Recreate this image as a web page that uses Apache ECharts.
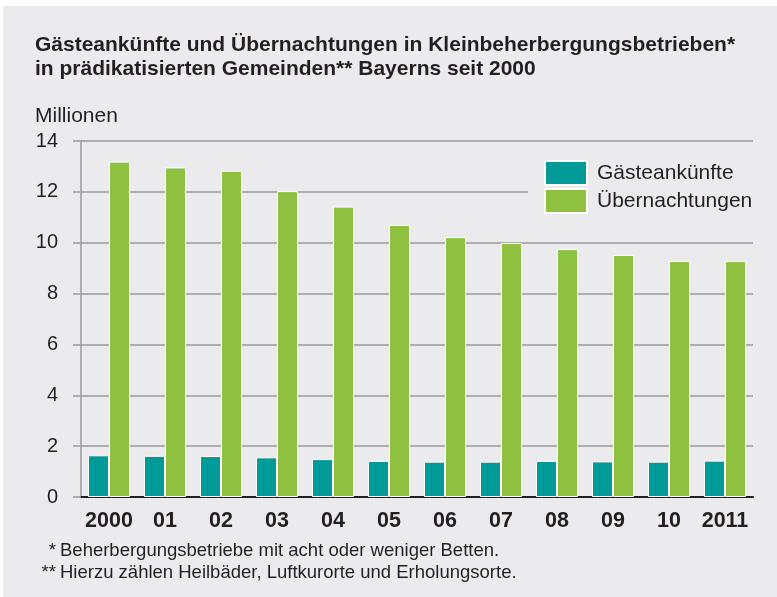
<!DOCTYPE html>
<html>
<head>
<meta charset="utf-8">
<script src="https://cdn.jsdelivr.net/npm/echarts@6/dist/echarts.min.js"></script>
<style>
  html, body { margin: 0; padding: 0; background: #fff; }
  #chart { width: 777px; height: 597px; }
</style>
</head>
<body>
<div id="chart"></div>
<script>
// Jahre (x axis)
const years = ['2000', '01', '02', '03', '04', '05', '06', '07', '08', '09', '10', '2011'];
// Gästeankünfte in Millionen
const arrivals = [1.64, 1.62, 1.61, 1.56, 1.49, 1.42, 1.39, 1.39, 1.42, 1.40, 1.39, 1.43];
// Übernachtungen in Millionen
const overnights = [13.19, 12.96, 12.83, 12.03, 11.42, 10.70, 10.22, 9.99, 9.75, 9.52, 9.28, 9.28];
const footnotes = [
  ['*', 'Beherbergungsbetriebe mit acht oder weniger Betten.'],
  ['**', 'Hierzu zählen Heilbäder, Luftkurorte und Erholungsorte.']
];

const font = '"Liberation Sans", Arial, sans-serif';
const textColor = '#231f20';

const myChart = echarts.init(document.getElementById('chart'));

const option = {
  backgroundColor: '#fff',
  animation: false,
  graphic: [
    {
      type: 'rect',
      z: -10,
      silent: true,
      shape: { x: 3, y: 6, width: 774, height: 591 },
      style: { fill: '#ebebed' }
    }
  ],
  title: [
    {
      text: 'Gästeankünfte und Übernachtungen in Kleinbeherbergungsbetrieben*\nin prädikatisierten Gemeinden** Bayerns seit 2000',
      left: 35,
      top: 33,
      padding: 0,
      textStyle: {
        fontFamily: font,
        fontWeight: 'bold',
        fontSize: 21,
        lineHeight: 24,
        color: textColor
      }
    },
    {
      text: 'Millionen',
      left: 35,
      top: 106,
      padding: 0,
      textStyle: { fontFamily: font, fontWeight: 'normal', fontSize: 21, color: textColor }
    },
    ...footnotes.map((f, i) => ({
      text: f[0],
      right: 777 - 56,
      top: 541 + i * 22,
      padding: 0,
      textStyle: { fontFamily: font, fontWeight: 'normal', fontSize: 18.5, color: textColor }
    })),
    ...footnotes.map((f, i) => ({
      text: f[1],
      left: 60,
      top: 541 + i * 22,
      padding: 0,
      textStyle: { fontFamily: font, fontWeight: 'normal', fontSize: 18.5, color: textColor }
    }))
  ],
  legend: {
    orient: 'vertical',
    left: 528,
    top: 152,
    padding: [8, 40, 8, 16],
    backgroundColor: '#ebebed',
    itemWidth: 42,
    itemHeight: 24,
    itemGap: 2,
    icon: 'rect',
    textStyle: {
      fontFamily: font,
      fontSize: 21,
      color: textColor,
      padding: [0, 0, 0, 5]
    },
    data: ['Gästeankünfte', 'Übernachtungen']
  },
  grid: {
    left: 81,
    right: 24,
    top: 141,
    bottom: 100,
    containLabel: false
  },
  xAxis: {
    type: 'category',
    data: years,
    axisLine: { show: true, lineStyle: { color: '#231f20', width: 2 } },
    axisTick: { show: false },
    axisLabel: {
      interval: 0,
      margin: 13,
      fontFamily: font,
      fontWeight: 'bold',
      fontSize: 21.5,
      color: textColor
    }
  },
  yAxis: {
    type: 'value',
    min: 0,
    max: 14,
    interval: 2,
    axisLine: { show: true, lineStyle: { color: '#9a9a9c', width: 1.5 } },
    axisTick: { show: true, inside: false, length: 8, lineStyle: { color: '#9a9a9c', width: 1.5 } },
    splitLine: { show: true, lineStyle: { color: '#9a9a9c', width: 1.5 } },
    axisLabel: {
      margin: 23,
      fontFamily: font,
      fontSize: 20,
      color: textColor
    }
  },
  series: [
    {
      name: 'Gästeankünfte',
      type: 'bar',
      data: arrivals,
      barWidth: 21,
      barGap: '0%',
      itemStyle: { color: '#009a98', borderColor: '#ffffff', borderWidth: 1 }
    },
    {
      name: 'Übernachtungen',
      type: 'bar',
      data: overnights,
      barWidth: 21,
      barGap: '0%',
      itemStyle: { color: '#8dc13f', borderColor: '#ffffff', borderWidth: 1 }
    }
  ]
};

option && myChart.setOption(option);
</script>
</body>
</html>
